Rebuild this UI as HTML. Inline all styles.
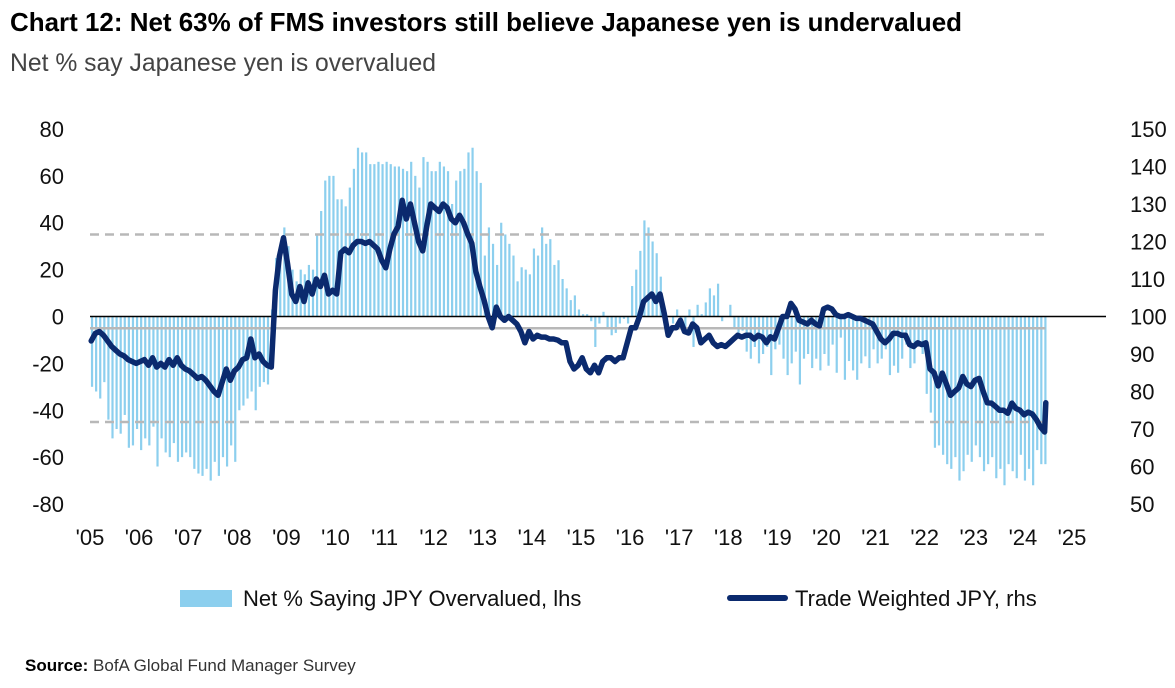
<!DOCTYPE html>
<html><head><meta charset="utf-8"><style>
html,body{margin:0;padding:0;background:#fff;width:1175px;height:688px;overflow:hidden}
svg{display:block;font-family:"Liberation Sans",sans-serif}
</style></head><body>
<svg id="chart" width="1175" height="688" viewBox="0 0 1175 688">
<text x="10" y="31" font-size="26" font-weight="bold" fill="#000" textLength="952" lengthAdjust="spacingAndGlyphs">Chart 12: Net 63% of FMS investors still believe Japanese yen is undervalued</text>
<text x="10" y="71" font-size="25" fill="#444" textLength="426" lengthAdjust="spacingAndGlyphs">Net % say Japanese yen is overvalued</text>
<g id="grid"></g>
<g id="bars"></g>
<g id="refs"></g>
<g id="line"></g>
<g id="axes"></g>
<g>
<rect x="180" y="590" width="52" height="17" fill="#8ccfee"/>
<text x="243" y="606" font-size="22" fill="#111">Net % Saying JPY Overvalued, lhs</text>
<line x1="730" y1="598" x2="785" y2="598" stroke="#0b2a6e" stroke-width="6" stroke-linecap="round"/>
<text x="795" y="606" font-size="22" fill="#111">Trade Weighted JPY, rhs</text>
</g>
<text x="25" y="671" font-size="17" fill="#333"><tspan font-weight="bold" fill="#000">Source:</tspan> BofA Global Fund Manager Survey</text>
</svg>
<script>
const leftTicks=[80,60,40,20,0,-20,-40,-60,-80];
const rightTicks=[150,140,130,120,110,100,90,80,70,60,50];
const yearLabels=["'05","'06","'07","'08","'09","'10","'11","'12","'13","'14","'15","'16","'17","'18","'19","'20","'21","'22","'23","'24","'25"];
const startYear=2005;
const netOvervalued=[
-30,-32,-35,-28,-44,-52,-48,-50,-42,-56,-55,-48,
-57,-52,-55,-47,-64,-52,-58,-60,-54,-62,-60,-58,
-60,-65,-67,-68,-65,-70,-62,-68,-60,-64,-55,-62,
-40,-38,-35,-32,-40,-30,-28,-29,3,25,30,38,
30,20,15,20,18,22,20,35,45,58,60,60,
50,50,47,55,63,72,70,70,65,65,66,65,
66,65,64,64,63,62,66,60,55,68,66,62,
62,66,64,62,48,58,62,63,70,72,62,57,
26,38,31,22,40,35,31,26,15,21,20,18,
29,26,38,31,33,22,24,16,12,7,9,3,
1,1,-2,-13,-3,2,-5,-8,-7,-3,-1,-3,
13,20,28,41,38,32,27,17,2,0,-3,3,
-3,-5,3,-13,5,1,6,12,9,14,-2,0,
5,-5,-8,-6,-15,-18,-13,-20,-16,-13,-25,-14,
-12,-18,-25,-20,-15,-29,-18,-16,-22,-18,-23,-16,
-21,-12,-24,-9,-27,-19,-23,-27,-20,-17,-22,-14,
-20,-18,-14,-25,-21,-24,-18,-12,-22,-20,-11,-16,
-33,-41,-56,-55,-59,-63,-65,-60,-70,-66,-59,-62,
-55,-60,-66,-63,-60,-69,-65,-72,-63,-66,-69,-59,
-70,-65,-72,-57,-63,-63];
const tradeWeightedJPY=[
93.5,95.5,96,95,93.5,92,91,90,89.5,88.5,88,87.5,
88,88.5,87,89,86.5,87.5,86.5,88.5,87,89,87,86,
85.5,84.5,83.5,84,83,81.5,80,79,82.5,86,83,85.5,
86.5,88.5,89,94,89,90,88,87,86.5,107,116,121,
114,106,104,108,104,109,106,110,108,111,106,107,
106,117,118,117,119,120,120,119.5,120,119,118,115,
113,118,122,124,131,126,130,125,120,117.5,124,130,
129,128,130,129,126,125,127,125,122,119.5,112,108,
104.4,100,97,102.5,100,99,100,99,98,96,93,96,
94,95,94.5,94.5,94,94,93.7,93,93,88,86,87,
89,86,85,87,85,88,89,89,88,89,89,93,
97,97,100,104,105,106,104,106,101,95,97,97,
99,96,95.6,98,97,93,94,95,93,92,92.5,92,
93,94,95,94.5,95,95,94,95,94.5,93,94.6,94,
97,100,100,103.5,102,99,98.5,98,99,98,97.5,102,
102.5,102,100.5,100,100,100.5,100,99.5,99.5,99,98.5,98,
96,94,93,94,95.5,95.5,95,95,92.5,92,93,92.5,
93,86,85,81.5,84.9,82,79,80,81,84,82,81.3,
83,83.5,80,77,76.9,76,75,75,74.2,76.9,75.5,75,
73.8,74.5,74,72.5,70.5,69.2,77];
const refLevels=[35,-45];
const avgLevel=-5;

const NS="http://www.w3.org/2000/svg";
function xAt(t){return 90+(t-startYear)*49.1;}
function yL(v){return 316.5-v*2.344;}
function yR(v){return 316.5-(v-100)*3.75;}
function mk(tag,attrs,parent){const e=document.createElementNS(NS,tag);for(const k in attrs)e.setAttribute(k,attrs[k]);parent.appendChild(e);return e;}
const bars=document.getElementById('bars'),line=document.getElementById('line'),axes=document.getElementById('axes'),refs=document.getElementById('refs');
netOvervalued.forEach((v,i)=>{
  const cx=xAt(startYear+(i+0.5)/12);
  const y0=yL(0),y1=yL(v);
  const r=mk('rect',{x:cx-1.1,y:Math.min(y0,y1),width:2.2,height:Math.abs(y1-y0),fill:'#8ccfee'},bars);
  
  
});
const lastX=xAt(startYear+(netOvervalued.length-0.5)/12);
refLevels.forEach(v=>{
  const l=mk('line',{x1:90,x2:lastX,y1:yL(v),y2:yL(v),stroke:'#b8b8b8','stroke-width':2.5,'stroke-dasharray':'9,6'},refs);
  
  
});
const avg=mk('line',{x1:90,x2:lastX,y1:yL(avgLevel),y2:yL(avgLevel),stroke:'#b8b8b8','stroke-width':2.5},refs);


const zero=mk('line',{x1:90,x2:1106,y1:yL(0),y2:yL(0),stroke:'#000','stroke-width':1.6},refs);


let d='';
tradeWeightedJPY.forEach((v,i)=>{
  const n=tradeWeightedJPY.length;
  const t= i<n-1 ? startYear+(i+0.3)/12 : startYear+(netOvervalued.length-0.4)/12;
  d+=(i?'L':'M')+xAt(t).toFixed(1)+','+yR(v).toFixed(1);
});
const p=mk('path',{d:d,fill:'none',stroke:'#0b2a6e','stroke-width':5.5,'stroke-linejoin':'round','stroke-linecap':'round'},line);


leftTicks.forEach(v=>{
  const t=mk('text',{x:64,y:yL(v)+8,'font-size':22,'text-anchor':'end',fill:'#111'},axes);t.textContent=v;
  
  
});
rightTicks.forEach(v=>{
  const t=mk('text',{x:1130,y:yR(v)+8,'font-size':22,fill:'#111'},axes);t.textContent=v;
  
  
});
yearLabels.forEach((s,i)=>{
  const t=mk('text',{x:xAt(startYear+i),y:545,'font-size':22,'text-anchor':'middle',fill:'#111'},axes);t.textContent=s;
  
  
});
</script>
</body></html>
